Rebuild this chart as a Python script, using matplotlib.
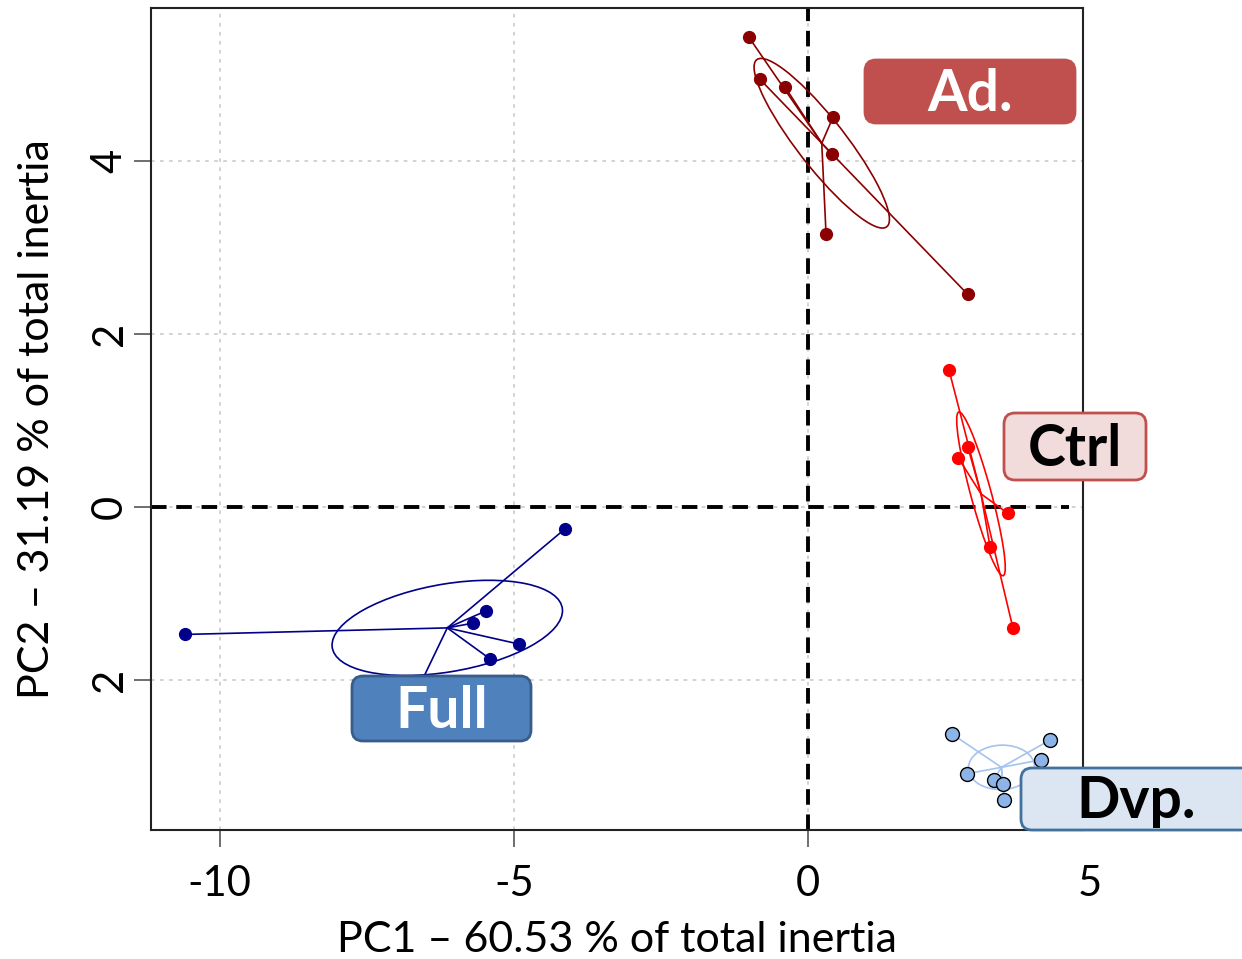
import numpy as np
import matplotlib.pyplot as plt
import matplotlib.transforms as mtransforms
from matplotlib.patches import Ellipse, FancyBboxPatch

plt.rcParams['font.family'] = ['Lato', 'DejaVu Sans']

# PCA coordinates
ad_x = [-1.00, -0.82, -0.39, 0.43, 0.41, 0.31, 2.72]
ad_y = [5.43, 4.95, 4.86, 4.51, 4.08, 3.16, 2.46]
ctrl_x = [2.40, 2.72, 2.56, 3.40, 3.10, 3.49]
ctrl_y = [1.59, 0.70, 0.57, -0.07, -0.46, -1.40]
full_x = [-10.60, -4.13, -5.48, -5.70, -4.92, -5.41, -6.68]
full_y = [-1.47, -0.25, -1.20, -1.34, -1.58, -1.75, -2.17]
dvp_x = [2.45, 4.12, 3.96, 2.70, 3.16, 3.32, 3.34]
dvp_y = [-2.62, -2.69, -2.92, -3.08, -3.15, -3.20, -3.38]

group_names = ['Ad.', 'Ctrl', 'Full', 'Dvp.']
x_ticks = [-10, -5, 0]
y_ticks = [-2, 0, 2, 4]
y_tick_labels = ['2', '0', '2', '4']

fig = plt.figure(figsize=(12.42, 9.59), dpi=100)
ax = fig.add_axes([151 / 1242, 1 - 830 / 959, (1083 - 151) / 1242, (830 - 8) / 959])
ax.set_xlim(-11.17, 4.68)
ax.set_ylim(-3.73, 5.77)

# grid
for gx in [-10, -5, 0]:
    ax.axvline(gx, color='#cfcfcf', lw=1.3, ls=(0, (2, 3)), zorder=0)
for gy in [-2, 0, 2, 4]:
    ax.axhline(gy, color='#cfcfcf', lw=1.3, ls=(0, (2, 3)), zorder=0)
ax.axvline(0, color='black', lw=2.8, ls=(0, (4, 2.5)), zorder=1)
ax.axhline(0, color='black', lw=2.8, ls=(0, (4, 2.5)), xmax=0.985, zorder=1)


def draw_group(xs, ys, color, ms, mec, lcolor):
    xs = np.asarray(xs)
    ys = np.asarray(ys)
    cx, cy = xs.mean(), ys.mean()
    for px, py in zip(xs, ys):
        ax.plot([cx, px], [cy, py], color=lcolor, lw=1.2, zorder=2)
    cov = np.cov(xs, ys, bias=True)
    vals, vecs = np.linalg.eigh(cov)
    ang = np.degrees(np.arctan2(vecs[1, 1], vecs[0, 1]))
    ax.add_patch(Ellipse((cx, cy), 2 * np.sqrt(vals[1]), 2 * np.sqrt(vals[0]), angle=ang,
                         fill=False, ec=lcolor, lw=1.2, zorder=2))
    ax.plot(xs, ys, 'o', color=color, ms=ms, mec=mec, mew=1.0, zorder=3)


draw_group(ad_x, ad_y, '#8b0000', 8.5, '#8b0000', '#8b0000')
draw_group(ctrl_x, ctrl_y, '#ff0000', 8.5, '#ff0000', '#ff0000')
draw_group(full_x, full_y, '#00008b', 8.5, '#00008b', '#00008b')
draw_group(dvp_x, dvp_y, '#8db4e8', 10, 'black', '#a5c3f0')

for s in ax.spines.values():
    s.set_color('#222222')
    s.set_linewidth(1.5)

ax.set_xticks(x_ticks)
ax.set_xticklabels([str(t) for t in x_ticks])
ax.set_yticks(y_ticks)
ax.set_yticklabels(y_tick_labels, rotation=90, va='center')
ax.tick_params(axis='both', length=12, width=1.2, color='#555555', labelsize=30)
ax.tick_params(axis='x', pad=13)
ax.tick_params(axis='y', pad=4)
trans = mtransforms.blended_transform_factory(ax.transData, ax.transAxes)
ax.annotate('5', xy=(4.8, 0), xycoords=trans, xytext=(0, -25), textcoords='offset points',
            ha='center', va='top', fontsize=30, annotation_clip=False)

ax.set_xlabel('PC1 – 60.53 % of total inertia', fontsize=31, labelpad=13)
ax.set_ylabel('PC2 – 31.19 % of total inertia', fontsize=31, labelpad=25)

# group labels (pixel boxes: left, top, width, height)
boxes = [
    (865, 60, 210, 63, '#c0504d', '#c0504d', 'white'),
    (1004, 413, 142, 67, '#f2dcdb', '#c0504d', 'black'),
    (352, 676, 179, 65, '#4f81bd', '#385d8a', 'white'),
    (1021, 768, 240, 62, '#dce6f2', '#41719c', 'black'),
]
text_cx = [970, 1075, 442, 1136]
for name, (bx, by, bw, bh, fc, ec, tc), tx in zip(group_names, boxes, text_cx):
    patch = FancyBboxPatch((bx / 100, (959 - by - bh) / 100), bw / 100, bh / 100,
                           boxstyle='round,pad=0,rounding_size=0.11',
                           transform=fig.dpi_scale_trans, fc=fc, ec=ec, lw=2, zorder=10)
    fig.add_artist(patch)
    fig.text(tx / 1242, 1 - (by + bh / 2 + 3) / 959, name, ha='center', va='center',
             fontsize=41, fontweight='bold', color=tc, zorder=11)

plt.savefig('out.png', dpi=100)
